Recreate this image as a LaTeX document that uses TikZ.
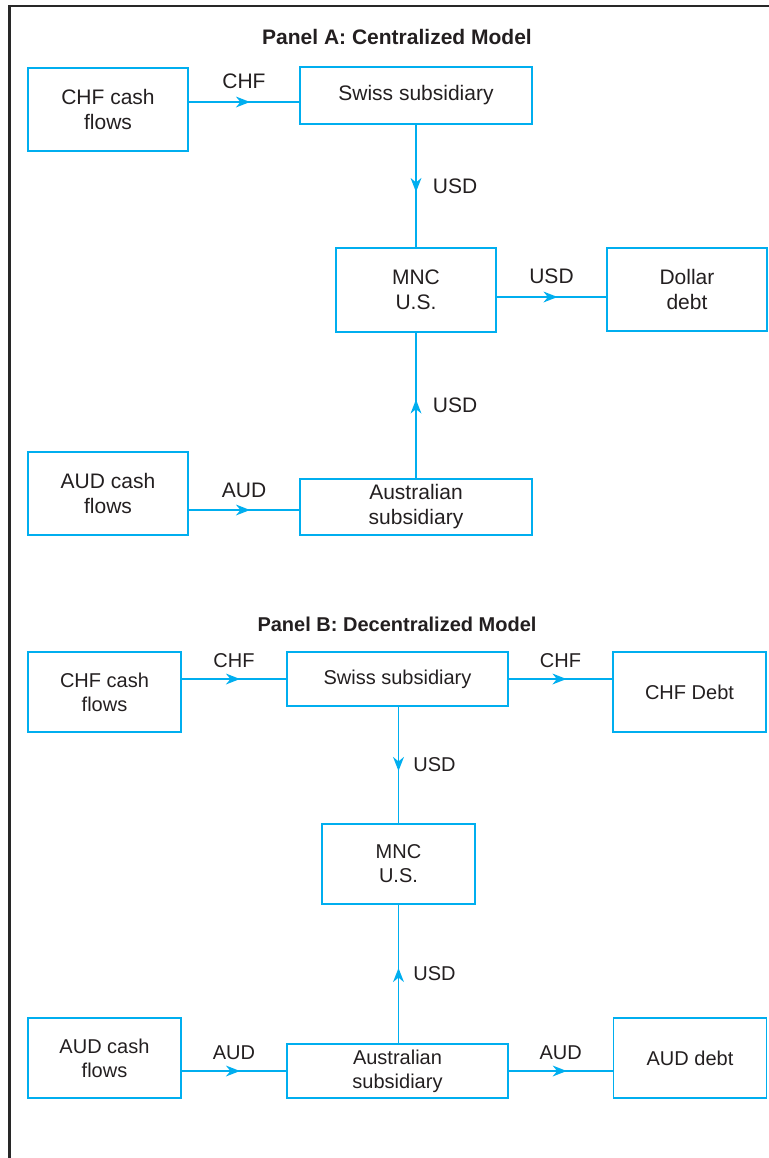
\documentclass[tikz,border=0pt]{standalone}
\usepackage{fontspec}
\setmainfont{Liberation Sans}
\usetikzlibrary{arrows.meta, positioning, calc, decorations.markings}
\definecolor{flowcyan}{RGB}{0, 174, 239}
\definecolor{inkgray}{RGB}{35, 31, 32}
\definecolor{framegray}{RGB}{40, 40, 40}

\begin{document}
\begin{tikzpicture}[x=0.5pt, y=-0.5pt,
  box/.style={draw=flowcyan, line width=0.9pt, text=inkgray, align=center, inner sep=0pt},
  boxA/.style={box, font=\fontsize{10.5}{12.5}\selectfont},
  boxB/.style={box, font=\fontsize{10}{12}\selectfont},
  flow/.style={draw=flowcyan, line width=0.9pt, postaction={decorate},
    decoration={markings, mark=at position 0.5 with {\arrow[flowcyan, xshift=3pt]{Stealth[length=7pt, width=5.4pt, inset=2.2pt]}}}},
  lblA/.style={text=inkgray, inner sep=0pt, font=\fontsize{10.5}{12.5}\selectfont},
  lblB/.style={text=inkgray, inner sep=0pt, font=\fontsize{10}{12}\selectfont},
  paneltitle/.style={text=inkgray, inner sep=0pt, font=\bfseries}]

  \useasboundingbox (0, 0) rectangle (769, 1158);
  % outer frame
  \draw[framegray, line width=1.4pt] (9.5, 6) rectangle (790, 1180);

  % Panel A: centralized
  \node[paneltitle, font=\fontsize{10.5}{12.5}\selectfont\bfseries] (titleA) at (397, 37) {Panel A: Centralized Model};

  \node[boxA, minimum width=80pt, minimum height=41.5pt] (chfA) at (108, 109.5) {CHF cash\\flows};
  \node[boxA, minimum width=116pt, minimum height=28.5pt] (swissA) at (416, 95.5) {Swiss subsidiary};
  \node[boxA, minimum width=80pt, minimum height=42pt] (mncA) at (416, 290) {MNC\\U.S.};
  \node[boxA, minimum width=80pt, minimum height=41.5pt] (dollarA) at (687, 289.5) {Dollar\\debt};
  \node[boxA, minimum width=80pt, minimum height=41.5pt] (audA) at (108, 493.5) {AUD cash\\flows};
  \node[boxA, minimum width=116pt, minimum height=28pt] (ausA) at (416, 507) {Australian\\subsidiary};

  \coordinate (swissA-in) at ([yshift=-3.25pt]swissA.west);
  \coordinate (dollarA-in) at ([yshift=-3.75pt]dollarA.west);
  \coordinate (ausA-in) at ([yshift=-1.5pt]ausA.west);

  \draw[flow] (chfA.east |- swissA-in) -- node[lblA, above=6pt] {CHF} (swissA-in);
  \draw[flow] (swissA.south) -- node[lblA, right=8pt] {USD} (mncA.north);
  \draw[flow] (mncA.east |- dollarA-in) -- node[lblA, above=6pt] {USD} (dollarA-in);
  \draw[flow] (ausA.north) -- node[lblA, right=8pt] {USD} (mncA.south);
  \draw[flow] (audA.east |- ausA-in) -- node[lblA, above=5.5pt] {AUD} (ausA-in);

  % Panel B: decentralized
  \node[paneltitle, font=\fontsize{10}{12}\selectfont\bfseries] (titleB) at (397, 624) {Panel B: Decentralized Model};

  \node[boxB, minimum width=76.5pt, minimum height=40pt] (chfB) at (104.5, 692) {CHF cash\\flows};
  \node[boxB, minimum width=110.5pt, minimum height=27pt] (swissB) at (397.5, 679) {Swiss subsidiary};
  \node[boxB, minimum width=76.5pt, minimum height=40pt] (chfdebtB) at (689.5, 692) {CHF Debt};
  \node[boxB, minimum width=76.5pt, minimum height=40pt] (mncB) at (398.5, 864) {MNC\\U.S.};
  \node[boxB, minimum width=76.5pt, minimum height=40pt] (audB) at (104.5, 1058) {AUD cash\\flows};
  \node[boxB, minimum width=110.5pt, minimum height=27pt] (ausB) at (397.5, 1071) {Australian\\subsidiary};
  \node[boxB, minimum width=76.5pt, minimum height=40pt] (auddebtB) at (690, 1058) {AUD debt};

  \draw[flow] (chfB.east |- swissB.west) -- node[lblB, above=5pt] {CHF} (swissB.west);
  \draw[flow] (swissB.east) -- node[lblB, above=5pt] {CHF} (swissB.east -| chfdebtB.west);
  \draw[flow] (swissB.south -| mncB.north) -- node[lblB, right=7pt] {USD} (mncB.north);
  \draw[flow] (ausB.north -| mncB.south) -- node[lblB, right=7pt] {USD} (mncB.south);
  \draw[flow] (audB.east |- ausB.west) -- node[lblB, above=5pt] {AUD} (ausB.west);
  \draw[flow] (ausB.east) -- node[lblB, above=5pt] {AUD} (ausB.east -| auddebtB.west);
\end{tikzpicture}
\end{document}
